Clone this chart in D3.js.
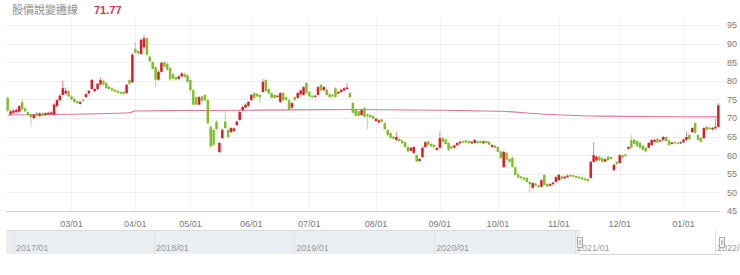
<!DOCTYPE html>
<html>
<head>
<meta charset="utf-8">
<script src="https://cdn.jsdelivr.net/npm/d3@7"></script>
<style>
  body { margin: 0; background: #fff; }
  svg { display: block; font-family: "Liberation Sans", Arial, sans-serif; }
</style>
</head>
<body>
<svg width="740" height="275"></svg>
<script>
// daily candles, mid Jan 2021 -> mid Jan 2022 (trading days)
const opens = [
  75.4,71.0,71.4,71.6,71.7,74.2,72.6,71.6,71.0,70.0,
  71.3,70.6,71.3,70.8,71.0,71.1,70.9,73.2,74.8,76.2,
  76.6,77.2,75.8,75.2,74.5,73.8,74.9,75.6,76.6,77.8,
  77.2,77.8,79.0,80.0,79.4,78.4,78.0,77.6,77.3,77.0,
  77.0,76.7,80.2,79.6,88.6,88.0,87.2,89.0,91.5,86.5,
  85.0,83.7,80.3,82.4,85.0,84.6,83.4,81.8,81.0,80.5,
  81.2,81.8,81.5,80.2,77.5,75.6,73.6,75.8,76.2,74.8,
  67.6,66.8,69.0,60.9,64.6,69.0,66.8,66.2,66.5,68.1,
  69.5,72.1,72.8,73.3,74.8,76.7,76.5,76.2,77.0,80.2,
  77.8,76.7,76.2,75.7,74.3,76.7,75.6,74.8,72.8,75.6,
  75.4,76.4,76.2,79.4,77.0,76.0,75.7,76.2,78.9,77.5,
  77.6,76.4,76.2,78.0,76.6,77.0,77.4,77.8,76.7,74.0,
  72.3,71.8,70.8,72.7,71.0,70.8,70.5,69.2,68.8,69.6,
  68.6,66.8,66.0,65.0,64.1,64.4,64.0,63.5,62.2,61.2,
  60.6,60.0,58.4,59.5,62.2,63.7,63.0,62.8,61.4,62.0,
  64.6,64.2,63.3,62.4,62.0,62.7,63.2,63.8,64.0,63.8,
  63.2,63.3,63.8,63.8,63.2,63.8,63.6,62.2,62.6,62.2,
  61.0,56.8,60.6,59.0,59.3,56.8,54.8,54.3,54.0,53.9,
  52.8,51.2,52.4,51.9,51.5,54.7,52.3,51.8,52.2,52.8,
  53.3,54.3,53.8,54.1,54.7,54.6,54.4,54.2,54.0,53.8,
  53.6,53.9,58.2,58.6,59.6,59.2,58.3,59.6,59.5,56.0,
  58.2,57.9,60.0,60.2,61.7,64.1,64.2,63.8,63.4,62.6,
  62.0,62.0,62.7,63.6,64.4,63.7,64.1,64.9,64.0,63.0,
  63.5,63.4,63.2,63.5,64.1,65.4,66.2,68.6,65.4,64.6,
  64.6,67.6,67.4,66.9,67.2,67.6
];
const closes = [
  72.0,71.8,72.0,72.2,73.2,72.4,71.8,70.8,70.2,70.8,
  70.6,71.2,70.6,71.3,71.4,71.5,73.6,74.8,76.0,78.0,
  77.3,75.8,75.0,74.3,74.0,74.3,74.6,76.4,77.3,80.2,
  77.8,79.2,80.2,79.0,78.0,77.8,77.4,77.1,76.8,76.6,
  76.5,78.9,79.2,87.0,87.6,87.4,91.0,91.4,87.0,85.2,
  83.2,80.3,82.4,84.8,83.8,83.0,80.4,80.6,80.3,81.2,
  82.0,81.0,79.7,77.5,73.6,73.6,75.6,74.6,74.8,68.6,
  62.4,62.8,67.0,63.3,66.8,67.3,64.9,67.3,67.2,69.0,
  71.6,73.0,73.6,74.3,76.2,75.4,75.8,75.6,79.7,77.2,
  76.6,75.4,75.4,76.0,76.7,74.8,74.9,72.2,74.0,74.9,
  76.7,77.4,78.3,76.8,75.8,75.6,76.0,78.3,77.4,78.3,
  76.2,75.6,75.8,75.6,77.0,77.6,78.0,78.2,75.6,71.4,
  70.6,70.6,72.1,70.3,70.5,70.2,69.8,69.8,69.4,69.0,
  67.0,65.4,64.6,64.4,64.9,63.8,63.2,62.2,61.0,62.0,
  62.2,58.3,59.0,62.0,63.5,62.8,62.4,62.2,61.9,64.6,
  63.6,63.0,61.4,61.8,62.6,63.3,63.6,63.4,63.4,63.2,
  63.6,64.1,63.3,63.3,63.7,63.3,62.8,62.7,62.0,60.9,
  59.2,60.9,58.8,58.2,56.8,54.7,54.0,53.8,53.4,52.8,
  52.2,52.5,51.8,51.4,53.3,52.0,51.6,52.2,52.6,54.1,
  54.7,53.6,54.2,54.5,54.3,54.2,53.9,53.8,53.5,53.3,
  53.1,58.2,60.0,59.6,58.6,58.2,58.9,58.7,59.0,57.4,
  57.6,60.0,59.4,59.8,62.2,62.0,63.0,62.4,62.0,61.4,
  61.0,63.3,64.1,64.1,63.4,64.0,64.9,63.8,62.7,63.4,
  63.2,63.1,63.5,64.2,64.9,64.3,67.3,66.0,64.1,63.6,
  67.3,66.8,67.0,67.3,67.6,73.4
];
const highs = [
  75.8,72.2,72.4,72.6,73.5,75.0,73.0,72.0,71.3,71.2,
  71.6,71.5,71.6,71.6,71.7,71.8,74.0,75.2,76.4,80.0,
  78.2,77.5,76.2,75.5,74.8,74.6,75.2,76.7,77.6,80.6,
  78.0,79.5,80.8,80.4,79.6,78.7,78.3,77.9,77.5,77.2,
  77.2,79.2,80.5,87.5,90.4,88.3,91.5,92.3,91.8,86.8,
  85.3,84.0,82.8,85.2,85.3,84.9,83.7,82.0,81.2,81.5,
  82.3,82.2,81.7,80.4,77.8,75.8,75.9,76.0,76.4,75.2,
  68.0,67.2,69.5,63.6,67.2,72.0,67.2,67.6,67.5,69.3,
  72.0,73.3,74.0,74.6,76.5,77.0,76.8,76.5,80.5,80.6,
  78.0,77.0,76.4,76.2,77.0,77.0,75.8,75.0,74.3,75.9,
  77.0,77.7,78.6,79.7,77.3,76.3,76.3,78.6,79.2,78.6,
  77.9,76.7,76.5,78.3,77.3,77.9,78.3,79.4,77.0,74.3,
  72.6,72.1,72.4,73.0,71.3,71.0,70.8,70.1,69.7,69.9,
  68.9,67.0,66.3,65.3,66.2,64.6,64.2,63.7,62.4,62.3,
  62.5,60.3,59.3,62.3,63.8,64.0,63.3,63.0,62.2,66.2,
  64.9,64.5,63.6,62.7,62.9,63.5,63.9,64.0,64.2,64.0,
  63.9,64.4,64.0,64.0,64.0,64.0,63.8,63.0,62.8,62.4,
  61.3,61.2,60.9,59.3,59.6,57.0,55.5,54.5,54.2,54.1,
  53.0,52.8,52.6,52.1,53.6,55.0,52.5,52.5,52.9,54.4,
  55.0,54.6,54.5,54.8,54.9,54.8,54.6,54.4,54.2,54.0,
  53.8,58.5,63.5,59.9,59.9,59.4,59.2,59.9,59.7,57.7,
  58.4,60.3,60.3,60.4,62.5,65.4,64.5,64.0,63.6,62.8,
  62.2,63.6,64.4,64.4,64.6,64.3,65.2,65.2,64.2,63.7,
  63.7,63.6,63.7,64.5,66.2,65.7,67.6,69.0,65.7,64.8,
  67.6,67.9,67.6,67.6,69.8,74.0
];
const lows = [
  71.5,70.6,71.0,71.2,71.4,72.0,71.5,70.4,67.6,69.6,
  70.2,70.3,70.3,70.5,70.8,70.9,70.7,73.0,74.4,76.0,
  76.2,75.5,74.7,74.0,73.7,73.6,74.3,75.4,76.3,77.6,
  77.0,77.4,78.8,78.6,77.8,77.5,77.1,76.8,76.5,76.3,
  76.2,76.5,78.9,79.4,87.2,87.0,87.0,88.6,86.8,85.0,
  83.0,78.3,80.0,82.2,83.5,82.7,80.0,80.2,80.0,80.3,
  81.0,80.7,79.4,77.2,73.3,73.3,73.4,74.3,74.5,68.3,
  61.7,62.4,66.7,60.5,64.3,67.0,64.6,66.0,66.3,67.9,
  69.3,71.9,72.6,73.0,74.6,75.2,75.5,74.0,76.8,77.0,
  76.4,75.2,75.2,75.5,74.0,74.5,74.6,72.0,72.5,74.6,
  75.2,76.2,76.0,76.5,75.5,75.3,75.4,76.0,77.2,77.3,
  76.0,75.4,75.5,75.4,76.4,76.8,77.2,77.6,75.4,71.2,
  70.4,70.4,70.6,70.1,67.0,70.0,69.6,69.0,68.6,68.7,
  66.8,65.2,64.4,64.2,63.9,63.5,63.0,62.0,60.8,61.0,
  60.4,58.0,58.2,59.3,62.0,62.6,62.2,62.0,61.2,61.8,
  63.4,62.8,61.2,61.6,61.8,62.5,63.0,63.2,63.2,63.0,
  63.0,63.1,63.1,63.1,63.0,63.0,62.6,62.0,61.8,60.7,
  59.0,56.6,58.6,58.0,56.6,54.5,53.8,53.6,53.2,52.6,
  50.0,51.0,51.6,51.2,51.3,51.8,51.4,51.6,52.0,52.6,
  53.1,53.4,53.6,53.9,54.1,54.0,53.7,53.6,53.3,53.1,
  52.9,53.7,58.0,58.4,58.4,58.0,58.1,58.5,58.8,55.6,
  57.4,57.7,59.2,59.6,61.5,61.8,62.8,62.2,61.8,61.2,
  60.8,61.8,62.5,63.4,63.2,63.5,63.9,63.6,62.5,62.8,
  63.0,62.9,63.0,63.3,63.9,64.1,66.0,65.8,63.9,63.4,
  64.4,66.6,66.8,66.7,67.0,67.4
];

// long moving average, read at a few points
const maIdx = [0, 20, 42, 44, 60, 84, 118, 150, 163, 170, 186, 204, 245];
const maVal = [70.8, 71.0, 71.4, 71.9, 72.0, 72.1, 72.3, 72.1, 71.9, 71.8, 71.0, 70.5, 70.3];

// month ticks (index of the first trading day)
const tickIdx = [22, 44, 63, 84, 104, 127, 149, 169, 190, 211, 233];
const tickLabels = ["03/01", "04/01", "05/01", "06/01", "07/01", "08/01", "09/01", "10/01", "11/01", "12/01", "01/01"];
const yTicks = [45, 50, 55, 60, 65, 70, 75, 80, 85, 90, 95];

// navigator
const navYears = ["2017/01", "2018/01", "2019/01", "2020/01", "2021/01", "2022/01"];
const selStart = new Date(2021, 0, 15);
const selEnd = new Date(2022, 0, 18);

const titleText = "股價說變遷線";
const titleValue = "71.77";

const red = "#d4202c";
const green = "#82bc30";

const svg = d3.select("svg");
const plot = { left: 6, right: 720, top: 25, bottom: 211 };

const N = closes.length;
const x = d3.scaleBand().domain(d3.range(N)).range([plot.left, plot.right]).padding(0.14);
const xc = i => x(i) + x.bandwidth() / 2;
const y = d3.scaleLinear().domain([45, 95]).range([plot.bottom, plot.top]);

// header
svg.append("text")
  .attr("x", 12).attr("y", 14)
  .attr("font-family", "'Noto Sans CJK TC', sans-serif")
  .attr("font-size", 11)
  .attr("fill", "#8f8f8f")
  .text(titleText);
svg.append("text")
  .attr("x", 94).attr("y", 14)
  .attr("font-size", 11)
  .attr("font-weight", "bold")
  .attr("fill", "#c23a66")
  .text(titleValue);

// grid
const grid = svg.append("g");
grid.selectAll("line.h")
  .data(yTicks)
  .enter().append("line")
  .attr("x1", plot.left).attr("x2", plot.right)
  .attr("y1", d => Math.round(y(d)) + 0.5).attr("y2", d => Math.round(y(d)) + 0.5)
  .attr("stroke", d => d === 45 ? "#d0d0d0" : "#efefef");
grid.selectAll("line.v")
  .data(tickIdx)
  .enter().append("line")
  .attr("x1", d => Math.round(xc(d)) + 0.5).attr("x2", d => Math.round(xc(d)) + 0.5)
  .attr("y1", 18).attr("y2", plot.bottom)
  .attr("stroke", "#f0f0f0");

// x axis labels
const xAxis = svg.append("g")
  .attr("transform", `translate(0,${plot.bottom + 7})`)
  .call(d3.axisBottom(x).tickValues(tickIdx).tickSize(0).tickFormat((d, i) => tickLabels[i]));
xAxis.select(".domain").remove();
xAxis.selectAll("text").attr("fill", "#7a7a7a").attr("font-size", 9).attr("font-family", "'Liberation Sans', Arial, sans-serif");

// y axis labels (right)
const yAxis = svg.append("g")
  .attr("transform", `translate(727,0)`)
  .call(d3.axisRight(y).tickValues(yTicks).tickSize(0).tickPadding(0));
yAxis.select(".domain").remove();
yAxis.selectAll("text").attr("fill", "#7a7a7a").attr("font-size", 9).attr("font-family", "'Liberation Sans', Arial, sans-serif");

// moving average
const ma = maIdx.map((d, i) => ({ i: d, v: maVal[i] }));
svg.append("path")
  .datum(ma)
  .attr("fill", "none")
  .attr("stroke", "#d9789a")
  .attr("stroke-width", 1.1)
  .attr("d", d3.line().x(d => xc(d.i)).y(d => y(d.v)).curve(d3.curveMonotoneX));

// candles
const candles = d3.range(N).map(i => ({ i, o: opens[i], c: closes[i], h: highs[i], l: lows[i] }));
const cg = svg.append("g").selectAll("g")
  .data(candles)
  .enter().append("g");
cg.append("line")
  .attr("x1", d => xc(d.i)).attr("x2", d => xc(d.i))
  .attr("y1", d => y(d.h)).attr("y2", d => y(d.l))
  .attr("stroke", d => d.c >= d.o ? red : green)
  .attr("stroke-opacity", 0.7)
  .attr("stroke-width", 0.8);
cg.append("rect")
  .attr("x", d => x(d.i))
  .attr("width", x.bandwidth())
  .attr("y", d => y(Math.max(d.o, d.c)))
  .attr("height", d => Math.max(1.2, Math.abs(y(d.o) - y(d.c))))
  .attr("fill", d => d.c >= d.o ? red : green);

// navigator
const nav = { top: 230, bottom: 254 };
const xn = d3.scaleTime()
  .domain([new Date(2017, 0, 1), new Date(2022, 0, 1)])
  .range([14, 715]);
const navG = svg.append("g");
navG.append("rect")
  .attr("x", plot.left).attr("y", nav.top)
  .attr("width", xn(selStart) - plot.left).attr("height", nav.bottom - nav.top)
  .attr("fill", "#ebeff2");
navG.append("line")
  .attr("x1", plot.left).attr("x2", xn(selStart))
  .attr("y1", nav.top + 0.5).attr("y2", nav.top + 0.5)
  .attr("stroke", "#d6dbe0");
navG.append("line")
  .attr("x1", xn(selStart)).attr("x2", xn(selEnd))
  .attr("y1", nav.bottom + 0.5).attr("y2", nav.bottom + 0.5)
  .attr("stroke", "#d8d8d8");
navG.selectAll("line.year")
  .data(navYears)
  .enter().append("line")
  .attr("x1", (d, i) => Math.round(xn(new Date(2017 + i, 0, 1))) + 0.5)
  .attr("x2", (d, i) => Math.round(xn(new Date(2017 + i, 0, 1))) + 0.5)
  .attr("y1", nav.top).attr("y2", nav.bottom)
  .attr("stroke", "#dde1e5");
navG.selectAll("text")
  .data(navYears)
  .enter().append("text")
  .attr("x", (d, i) => xn(new Date(2017 + i, 0, 1)) + 2)
  .attr("y", 251)
  .attr("font-size", 9)
  .attr("fill", "#9a9a9a")
  .text(d => d);

[selStart, selEnd].forEach(dt => {
  const hx = Math.round(xn(dt));
  const h = navG.append("g").attr("transform", `translate(${hx},237)`);
  h.append("rect")
    .attr("x", -2.5).attr("y", 0.5)
    .attr("width", 5).attr("height", 10)
    .attr("fill", "#f6f6f6").attr("stroke", "#9a9a9a").attr("stroke-width", 0.8);
  h.append("line").attr("x1", -0.5).attr("x2", -0.5).attr("y1", 3).attr("y2", 8).attr("stroke", "#9a9a9a").attr("stroke-width", 0.6);
  h.append("line").attr("x1", 0.8).attr("x2", 0.8).attr("y1", 3).attr("y2", 8).attr("stroke", "#9a9a9a").attr("stroke-width", 0.6);
});
</script>
</body>
</html>
